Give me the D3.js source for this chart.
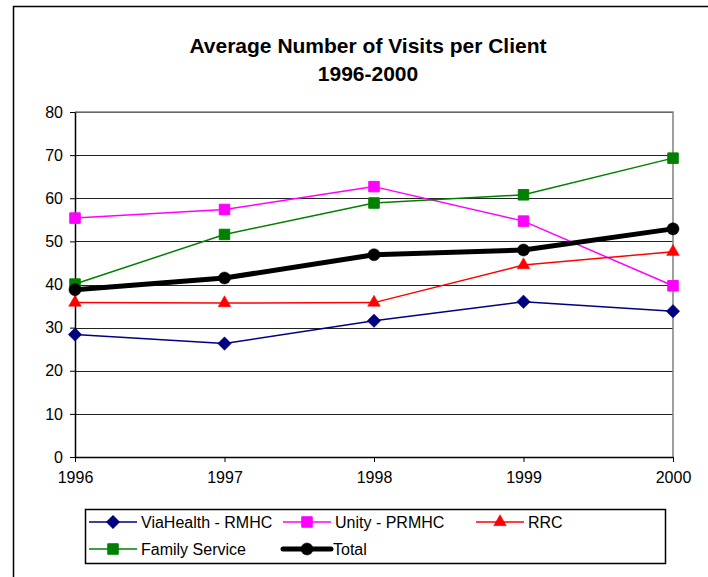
<!DOCTYPE html>
<html>
<head>
<meta charset="utf-8">
<script src="https://cdn.jsdelivr.net/npm/d3@7"></script>
<style>
  body { margin: 0; background: #fff; }
  svg { display: block; font-family: "Liberation Sans", Arial, sans-serif; }
</style>
</head>
<body>
<div class="svg-container"></div>
<script>
// data
var years = ["1996", "1997", "1998", "1999", "2000"];
var viaHealth = [28.4, 26.3, 31.6, 36.0, 33.8];
var unity = [55.4, 57.4, 62.7, 54.7, 39.7];
var rrc = [35.8, 35.7, 35.8, 44.5, 47.6];
var familyService = [40.1, 51.6, 58.9, 60.8, 69.3];
var total = [38.8, 41.5, 46.9, 48.0, 52.9];
var yTicks = [0, 10, 20, 30, 40, 50, 60, 70, 80];

var series = [
    {name: "ViaHealth - RMHC", values: viaHealth, color: "#000080", symbol: "diamond", width: 1.5},
    {name: "Unity - PRMHC", values: unity, color: "#ff00ff", symbol: "square", width: 1.5},
    {name: "RRC", values: rrc, color: "#ff0000", symbol: "triangle", width: 1.5},
    {name: "Family Service", values: familyService, color: "#008000", symbol: "square", width: 1.5},
    {name: "Total", values: total, color: "#000000", symbol: "circle", width: 5}
];

var W = 708, H = 577;
var margin = {top: 112, left: 75},
    width = 598,
    height = 345;

var svg = d3.select(".svg-container").append("svg")
    .attr("width", W)
    .attr("height", H);

// chart frame
svg.append("rect")
    .attr("x", 13.5).attr("y", 6.5)
    .attr("width", 760).attr("height", 640)
    .attr("fill", "none")
    .attr("stroke", "#000")
    .attr("stroke-width", 1.5);

// title
svg.append("text")
    .attr("x", 368).attr("y", 53)
    .attr("text-anchor", "middle")
    .attr("font-weight", "bold")
    .attr("font-size", "21px")
    .text("Average Number of Visits per Client");
svg.append("text")
    .attr("x", 368).attr("y", 81)
    .attr("text-anchor", "middle")
    .attr("font-weight", "bold")
    .attr("font-size", "21px")
    .text("1996-2000");

var g = svg.append("g")
    .attr("transform", "translate(" + margin.left + "," + margin.top + ")");

var xScale = d3.scalePoint().domain(years).range([0, width]),
    yScale = d3.scaleLinear().domain([0, 80]).range([height, 0]);

// gridlines
g.append("g")
    .attr("class", "grid")
    .call(d3.axisLeft(yScale).tickValues(yTicks).tickSize(-width).tickFormat(""))
    .call(function (s) {
        s.select(".domain").remove();
        s.selectAll("line").attr("stroke", "#222").attr("shape-rendering", "crispEdges");
    });

// plot area border (top / right)
g.append("path")
    .attr("d", "M0,0H" + width + "V" + height)
    .attr("fill", "none")
    .attr("stroke", "#808080")
    .attr("stroke-width", 1.5);

// axes
g.append("g")
    .attr("transform", "translate(0," + height + ")")
    .call(d3.axisBottom(xScale).tickSize(5).tickPadding(10).tickSizeOuter(0))
    .call(function (s) {
        s.select(".domain").attr("stroke", "#000").attr("stroke-width", 1.5);
        s.selectAll("line").attr("stroke", "#000");
        s.selectAll("text").attr("font-size", "16px").attr("fill", "#000")
            .attr("font-family", "Liberation Sans, Arial, sans-serif");
    });

g.append("g")
    .call(d3.axisLeft(yScale).tickValues(yTicks).tickSize(5).tickPadding(7).tickSizeOuter(0))
    .call(function (s) {
        s.select(".domain").attr("stroke", "#000").attr("stroke-width", 1.5);
        s.selectAll("line").attr("stroke", "#000");
        s.selectAll("text").attr("font-size", "16px").attr("fill", "#000")
            .attr("font-family", "Liberation Sans, Arial, sans-serif");
    });

var symbolTypes = {
    diamond: d3.symbolDiamond2,
    square: d3.symbolSquare2,
    triangle: d3.symbolTriangle2,
    circle: d3.symbolCircle
};
var symbolSize = {diamond: 115, square: 140, triangle: 115, circle: 115};

function marker(sel, d) {
    sel.attr("d", d3.symbol().type(symbolTypes[d.symbol]).size(symbolSize[d.symbol])())
        .attr("fill", d.color)
        .attr("stroke", d.color)
        .attr("stroke-width", d.symbol === "square" ? 1 : 0.5);
}

var line = d3.line()
    .x(function (d, i) { return xScale(years[i]); })
    .y(function (d) { return yScale(d); });

var sg = g.selectAll(".series")
    .data(series)
    .enter().append("g")
    .attr("class", "series");

sg.append("path")
    .attr("d", function (d) { return line(d.values); })
    .attr("fill", "none")
    .attr("stroke", function (d) { return d.color; })
    .attr("stroke-width", function (d) { return d.width; })
    .attr("stroke-linejoin", "round");

sg.each(function (d) {
    d3.select(this).selectAll(".pt")
        .data(d.values)
        .enter().append("path")
        .attr("class", "pt")
        .attr("transform", function (v, i) {
            return "translate(" + xScale(years[i]) + "," + yScale(v) + ")";
        })
        .each(function () { marker(d3.select(this), d); });
});

// legend
svg.append("rect")
    .attr("x", 85.5).attr("y", 509.5)
    .attr("width", 580).attr("height", 54)
    .attr("fill", "#fff")
    .attr("stroke", "#000")
    .attr("stroke-width", 1.5);

var legendPos = [
    {x: 89, y: 522}, {x: 283, y: 522}, {x: 476, y: 522},
    {x: 89, y: 549}, {x: 283, y: 549}
];

var lg = svg.selectAll(".legend-item")
    .data(series)
    .enter().append("g")
    .attr("class", "legend-item")
    .attr("transform", function (d, i) {
        return "translate(" + legendPos[i].x + "," + legendPos[i].y + ")";
    });

lg.append("line")
    .attr("x1", 0).attr("x2", 48)
    .attr("stroke", function (d) { return d.color; })
    .attr("stroke-width", function (d) { return d.width; })
    .attr("stroke-linecap", function (d) { return d.symbol === "circle" ? "round" : "butt"; });

lg.append("path")
    .attr("transform", "translate(24,0)")
    .each(function (d) { marker(d3.select(this), d); });

lg.append("text")
    .attr("x", function (d) { return d.symbol === "circle" ? 50 : 52; })
    .attr("dy", "0.35em")
    .attr("font-size", "16px")
    .text(function (d) { return d.name; });
</script>
</body>
</html>
